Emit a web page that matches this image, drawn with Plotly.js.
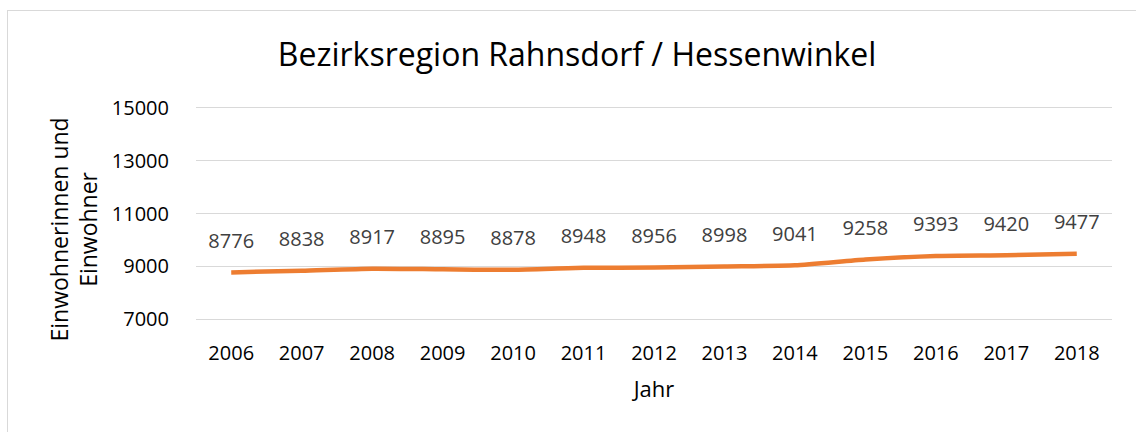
<!DOCTYPE html>
<html><head><meta charset="utf-8">
<script src="https://cdn.plot.ly/plotly-3.0.1.min.js"></script>
<style>
html,body{margin:0;padding:0;background:#fff;}
#wrap{position:relative;width:1136px;height:432px;overflow:hidden;}
#frame{position:absolute;left:7px;top:10px;width:1140px;height:440px;border:1.5px solid #d9d9d9;box-sizing:border-box;}
#chart{position:absolute;left:0;top:0;width:1136px;height:432px;}
</style></head>
<body><div id="wrap"><div id="frame"></div><div id="chart"></div></div>
<script>
const years = ['2006','2007','2008','2009','2010','2011','2012','2013','2014','2015','2016','2017','2018'];
const residents = [8776,8838,8917,8895,8878,8948,8956,8998,9041,9258,9393,9420,9477];
const yTicks = [7000,9000,11000,13000,15000];
const chartTitle = 'Bezirksregion Rahnsdorf / Hessenwinkel';
const xTitle = 'Jahr';
const yTitle = 'Einwohnerinnen und<br>Einwohner';

const font = '"Open Sans", "Noto Sans", sans-serif';
Plotly.newPlot('chart', [{
  type:'scatter', mode:'lines+markers+text', x: years, y: residents,
  text: residents.map(String), textposition:'top center',
  textfont:{family:font, size:20, color:'#404040'},
  marker:{size:30, color:'rgba(0,0,0,0)'},
  line:{color:'#ED7D31', width:4.5, shape:'spline', smoothing:0.6},
  cliponaxis:false, hoverinfo:'none'
}], {
  width:1136, height:432,
  paper_bgcolor:'rgba(0,0,0,0)', plot_bgcolor:'rgba(0,0,0,0)',
  margin:{l:196, r:24, t:106, b:111},
  showlegend:false,
  font:{family:font, color:'#000'},
  title:{text:chartTitle, font:{family:font, size:32, color:'#000'}, xref:'container', x:0.508, xanchor:'center', yref:'container', y:0.873, yanchor:'middle'},
  xaxis:{type:'category', range:[-0.5,12.5], showgrid:false, zeroline:false, showline:false,
    ticks:'outside', ticklen:14, tickcolor:'rgba(0,0,0,0)',
    tickfont:{family:font, size:20, color:'#000'},
    title:{text:xTitle, font:{family:font, size:22, color:'#000'}, standoff:16}},
  yaxis:{range:[6940,15060], tickvals:yTicks, ticktext:yTicks.map(String), showgrid:true, gridcolor:'#d9d9d9', gridwidth:1.5,
    zeroline:false, showline:false, ticks:'outside', ticklen:22, tickcolor:'rgba(0,0,0,0)',
    tickfont:{family:font, size:20, color:'#000'}},
  annotations:[{text:yTitle, xref:'paper', yref:'paper', x:0, y:0.5, xshift:-123, yshift:-16, xanchor:'center', yanchor:'middle',
    textangle:-90, showarrow:false, font:{family:font, size:23, color:'#000'}}]
}, {staticPlot:true});
</script></body></html>
